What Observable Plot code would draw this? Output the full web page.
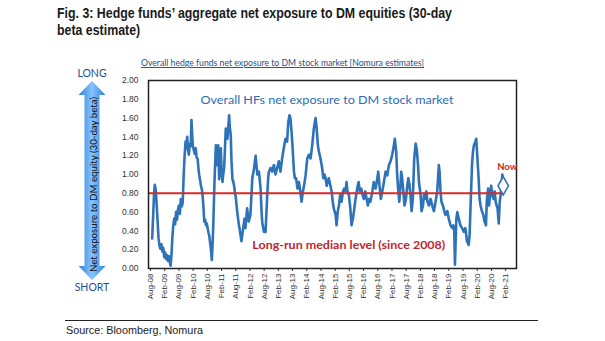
<!DOCTYPE html>
<html><head><meta charset="utf-8">
<script src="https://cdn.jsdelivr.net/npm/d3@7"></script>
<script src="https://cdn.jsdelivr.net/npm/@observablehq/plot@0.6"></script>
<style>
body{margin:0;background:#fff;}
#wrap{position:relative;width:605px;height:341px;overflow:hidden;background:#fff;}
.tl{position:absolute;left:57px;font:bold 15px/15px "Liberation Sans",Arial,sans-serif;color:#1a1a1a;white-space:nowrap;transform-origin:0 0;}
#chart{position:absolute;left:0;top:42px;}
.hr{position:absolute;left:65px;top:319.5px;width:473px;height:0;border-top:1.2px solid #222;}
#src{position:absolute;left:66px;top:324px;font:11px/13px "Liberation Sans",Arial,sans-serif;color:#222;white-space:nowrap;transform-origin:0 0;}
</style></head>
<body><div id="wrap">
<div class="tl" id="t1" style="top:5px">Fig. 3: Hedge funds’ aggregate net exposure to DM equities (30-day</div>
<div class="tl" id="t2" style="top:22px">beta estimate)</div>
<div id="chart"></div>
<div class="hr"></div>
<div id="src">Source: Bloomberg, Nomura</div>
</div>
<script>
// months since Aug-2008
const months = [0.7,1.1,1.5,1.8,2.2,2.6,3.0,3.4,3.8,4.2,4.6,5.0,5.4,5.8,6.2,6.6,7.0,7.4,7.8,8.2,8.5,8.9,9.2,9.6,10.0,10.4,10.8,11.2,11.6,12.0,12.4,12.8,13.2,13.6,14.0,14.4,14.8,15.2,15.5,15.9,16.2,16.6,17.0,17.3,17.6,17.9,18.3,18.7,19.1,19.5,19.9,20.3,20.6,21.0,21.3,21.7,22.0,22.4,22.7,23.1,23.4,23.8,24.1,24.5,24.8,25.2,25.5,25.9,26.2,26.5,26.9,27.2,27.6,28.0,28.3,28.6,29.0,29.3,29.7,30.0,30.4,30.7,31.1,31.4,31.8,32.1,32.5,32.9,33.2,33.5,33.9,34.2,34.6,35.0,35.3,35.7,36.0,36.6,37.3,38.0,38.4,39.0,39.7,40.1,40.8,41.5,42.2,43.0,43.7,44.4,45.1,45.8,46.5,46.9,47.2,47.9,48.6,49.3,49.7,50.0,50.7,51.4,52.1,52.8,53.5,54.2,54.9,55.6,56.3,57.0,57.7,58.2,58.7,59.1,59.6,60.1,60.6,61.0,61.5,62.1,62.7,63.4,63.8,64.4,64.9,65.5,66.2,66.9,67.6,68.3,69.0,69.7,70.1,70.7,71.1,71.8,72.5,73.0,73.5,73.9,74.4,75.3,76.0,76.5,77.0,77.4,78.2,78.6,79.1,79.6,80.1,80.7,81.3,81.8,82.4,82.8,83.2,83.8,84.4,84.9,85.5,86.1,86.6,87.3,87.9,88.4,89.0,89.6,90.1,90.7,91.3,91.8,92.4,92.9,93.7,94.3,95.1,95.8,96.2,96.7,97.3,97.9,98.6,99.3,100.0,100.7,101.4,102.1,102.8,103.2,103.8,104.2,104.6,105.1,105.5,105.9,106.3,106.8,107.3,107.9,108.5,108.9,109.4,109.8,110.3,110.8,111.4,112.0,112.5,113.0,113.4,114.1,114.5,115.1,115.5,115.9,116.5,117.0,117.6,118.3,119.0,119.7,120.4,121.1,121.8,122.1,122.5,122.9,123.5,124.1,124.6,125.4,126.0,126.7,127.5,127.9,128.3,128.6,128.9,129.2,129.6,130.2,130.9,131.6,132.3,133.0,133.7,134.4,134.8,135.2,135.8,136.2,136.6,137.2,137.6,138.0,138.6,139.0,139.4,140.0,140.6,141.1,141.7,142.1,142.6,143.0,143.5,143.9,144.4,144.9,145.4,145.8,146.2,146.6,147.1,147.5,147.9,148.2,148.6,149.0];
const exposure = [0.32,0.55,0.80,0.89,0.84,0.68,0.50,0.32,0.24,0.21,0.26,0.18,0.22,0.12,0.17,0.10,0.14,0.08,0.13,0.06,0.03,0.16,0.32,0.45,0.53,0.47,0.60,0.52,0.63,0.67,0.58,0.74,0.66,0.70,0.99,1.20,1.35,1.28,1.40,1.25,1.21,1.33,1.30,1.58,1.42,1.30,1.26,1.22,1.28,1.18,1.17,1.05,0.99,0.93,0.88,0.84,0.78,0.64,0.50,0.52,0.46,0.48,0.43,0.38,0.35,0.27,0.21,0.09,0.25,0.45,0.82,1.05,1.31,1.10,1.20,1.31,0.95,1.12,1.28,1.05,0.92,1.00,1.07,1.25,1.49,1.40,1.38,1.52,1.63,1.50,1.42,1.15,0.95,0.92,0.88,0.80,0.76,0.61,0.47,0.36,0.29,0.40,0.53,0.43,0.64,0.50,0.57,0.96,1.06,1.20,1.00,1.03,0.85,0.61,0.49,0.39,0.39,0.78,0.96,1.03,1.07,1.03,1.10,1.00,1.07,1.14,1.03,1.17,1.28,1.38,1.35,1.56,1.63,1.60,1.45,1.25,1.03,0.96,0.96,0.85,0.92,0.80,0.71,0.82,0.89,0.99,1.17,1.21,1.17,1.31,1.49,1.60,1.52,1.31,1.25,1.17,1.07,0.96,1.00,0.97,0.88,0.96,0.88,0.82,0.71,0.64,0.57,0.46,0.61,0.67,0.78,0.71,0.82,0.85,0.82,0.92,0.82,0.78,0.64,0.46,0.53,0.64,0.74,0.85,0.92,0.82,0.85,0.78,0.74,0.82,0.74,0.67,0.74,0.71,0.82,0.92,0.85,0.96,1.03,0.89,0.74,0.82,0.92,1.03,0.99,1.10,1.14,1.21,1.31,1.38,1.24,0.99,0.85,0.71,0.85,1.03,0.96,0.82,0.67,0.74,0.89,0.96,0.89,0.78,0.61,0.74,1.17,1.33,1.26,1.10,0.92,0.78,0.61,0.67,0.78,0.74,0.82,0.71,0.67,0.74,0.67,0.61,0.71,0.82,1.10,1.03,0.82,0.71,0.67,0.61,0.57,0.61,0.53,0.46,0.43,0.46,0.40,0.04,0.30,0.53,0.60,0.53,0.46,0.43,0.39,0.43,0.29,0.25,0.36,0.67,1.10,1.24,1.31,1.35,1.38,1.21,0.96,0.74,0.67,0.61,0.57,0.50,0.46,0.74,0.85,0.67,0.80,0.88,0.78,0.74,0.82,0.71,0.67,0.64,0.48,0.71,0.78,0.85,1.00,0.88];
const tickMonths = [0,6,12,18,24,30,36,42,48,54,60,66,72,78,84,90,96,102,108,114,120,126,132,138,144,150];
const tickLabels = ["Aug-08","Feb-09","Aug-09","Feb-10","Aug-10","Feb-11","Aug-11","Feb-12","Aug-12","Feb-13","Aug-13","Feb-14","Aug-14","Feb-15","Aug-15","Feb-16","Aug-16","Feb-17","Aug-17","Feb-18","Aug-18","Feb-19","Aug-19","Feb-20","Aug-20","Feb-21"];
const yTicks = [0,0.2,0.4,0.6,0.8,1.0,1.2,1.4,1.6,1.8,2.0];
const medianLevel = 0.80;
const seriesLabel = "Overall HFs net exposure to DM stock market";
const medianLabel = "Long-run median level (since 2008)";
const nowLabel = "Now";
const subtitle = "Overall hedge funds net exposure to DM stock market [Nomura estimates]";
const yAxisLabel = "Net exposure to DM equity (30-day beta)";

const series = months.map((m, i) => ({m, v: exposure[i]}));
const last = series[series.length - 1];
const xDomain = [-0.85, 154.6];

const chart = Plot.plot({
  width: 605, height: 275,
  marginLeft: 148, marginRight: 89, marginTop: 38, marginBottom: 49,
  style: {fontFamily: "'Liberation Sans', Arial, sans-serif", color: "#333", background: "transparent", overflow: "visible"},
  x: {domain: xDomain},
  y: {domain: [0, 2]},
  marks: [
    Plot.axisY(yTicks, {tickSize: 0, tickPadding: 10, tickFormat: d => d.toFixed(2), fontSize: 8.5, label: null}),
    Plot.axisX(tickMonths, {tickSize: 3, tickPadding: 2, tickRotate: -90, tickFormat: d => tickLabels[tickMonths.indexOf(d)], fontSize: 8, label: null}),
    Plot.line(series, {x: "m", y: "v", stroke: "#2e73b8", strokeWidth: 2.6, strokeLinejoin: "round"}),
    Plot.ruleY([medianLevel], {x1: xDomain[0], x2: last.m, stroke: "#d42a2a", strokeWidth: 2}),
    Plot.frame({stroke: "#222", strokeWidth: 1.5}),
    Plot.dot([last], {x: "m", y: "v", symbol: "diamond", r: 5.5, stroke: "#2e73b8", fill: "white", strokeWidth: 1.6}),
    Plot.text([last], {x: "m", y: "v", text: () => nowLabel, dx: 4, dy: -19, fill: "#cc1f26", fontWeight: "bold", fontSize: 9.5, fontFamily: "Lato"}),
    Plot.text([{m: 21.1, v: 1.787}], {x: "m", y: "v", text: () => seriesLabel, textAnchor: "start", fill: "#2a6db5", fontSize: 12, fontFamily: "Lato"}),
    Plot.text([{m: 43.0, v: 0.245}], {x: "m", y: "v", text: () => medianLabel, textAnchor: "start", fill: "#c0272d", fontWeight: "bold", fontSize: 11.5, fontFamily: "Lato"})
  ]
});
document.getElementById("chart").appendChild(chart);

const svg = d3.select(chart);
svg.selectAll("text").filter(function(){return this.textContent === seriesLabel;}).attr("textLength", 253).attr("lengthAdjust", "spacingAndGlyphs");
svg.selectAll("text").filter(function(){return this.textContent === medianLabel;}).attr("textLength", 193).attr("lengthAdjust", "spacingAndGlyphs");

// decorations (svg coords = page y - 42)
const defs = svg.append("defs");
const g = defs.append("linearGradient").attr("id", "arrGrad").attr("x1", "0").attr("x2", "1").attr("y1", "0").attr("y2", "0");
g.append("stop").attr("offset", "0").attr("stop-color", "#2f7fd8");
g.append("stop").attr("offset", "0.5").attr("stop-color", "#86c4ff");
g.append("stop").attr("offset", "1").attr("stop-color", "#2f7fd8");

svg.append("text").attr("x", 141).attr("y", 24).attr("text-anchor", "start").attr("fill", "#1f4e8c").attr("font-family", "Lato").attr("font-size", 9.5)
  .attr("text-decoration", "underline").attr("textLength", 283).attr("lengthAdjust", "spacingAndGlyphs").text(subtitle);

const cx = 92;
const pts = [[cx,39],[cx+13.5,53],[cx+7.5,53],[cx+7.5,224],[cx+13.5,224],[cx,238],[cx-13.5,224],[cx-7.5,224],[cx-7.5,53],[cx-13.5,53]];
svg.append("polygon").attr("points", pts.map(p => p.join(",")).join(" ")).attr("fill", "url(#arrGrad)");
svg.append("text").attr("x", cx).attr("y", 35).attr("text-anchor", "middle").attr("fill", "#1f4e8c").attr("font-family", "Lato").attr("font-size", 10.5).text("LONG");
svg.append("text").attr("x", cx).attr("y", 248.5).attr("text-anchor", "middle").attr("fill", "#1f4e8c").attr("font-family", "Lato").attr("font-size", 10.5).text("SHORT");
svg.append("text").attr("transform", `translate(${cx+1},142.5) rotate(-90)`).attr("text-anchor", "middle").attr("dominant-baseline", "central")
  .attr("fill", "#111").attr("font-family", "Lato").attr("font-size", 10).attr("textLength", 175).attr("lengthAdjust", "spacingAndGlyphs").text(yAxisLabel);

const t1 = document.getElementById("t1");
const sc = 395 / t1.getBoundingClientRect().width;
t1.style.transform = `scaleX(${sc})`;
document.getElementById("t2").style.transform = `scaleX(${sc})`;
const srcEl = document.getElementById("src");
srcEl.style.transform = `scaleX(${137 / srcEl.getBoundingClientRect().width})`;
</script>
</body></html>
